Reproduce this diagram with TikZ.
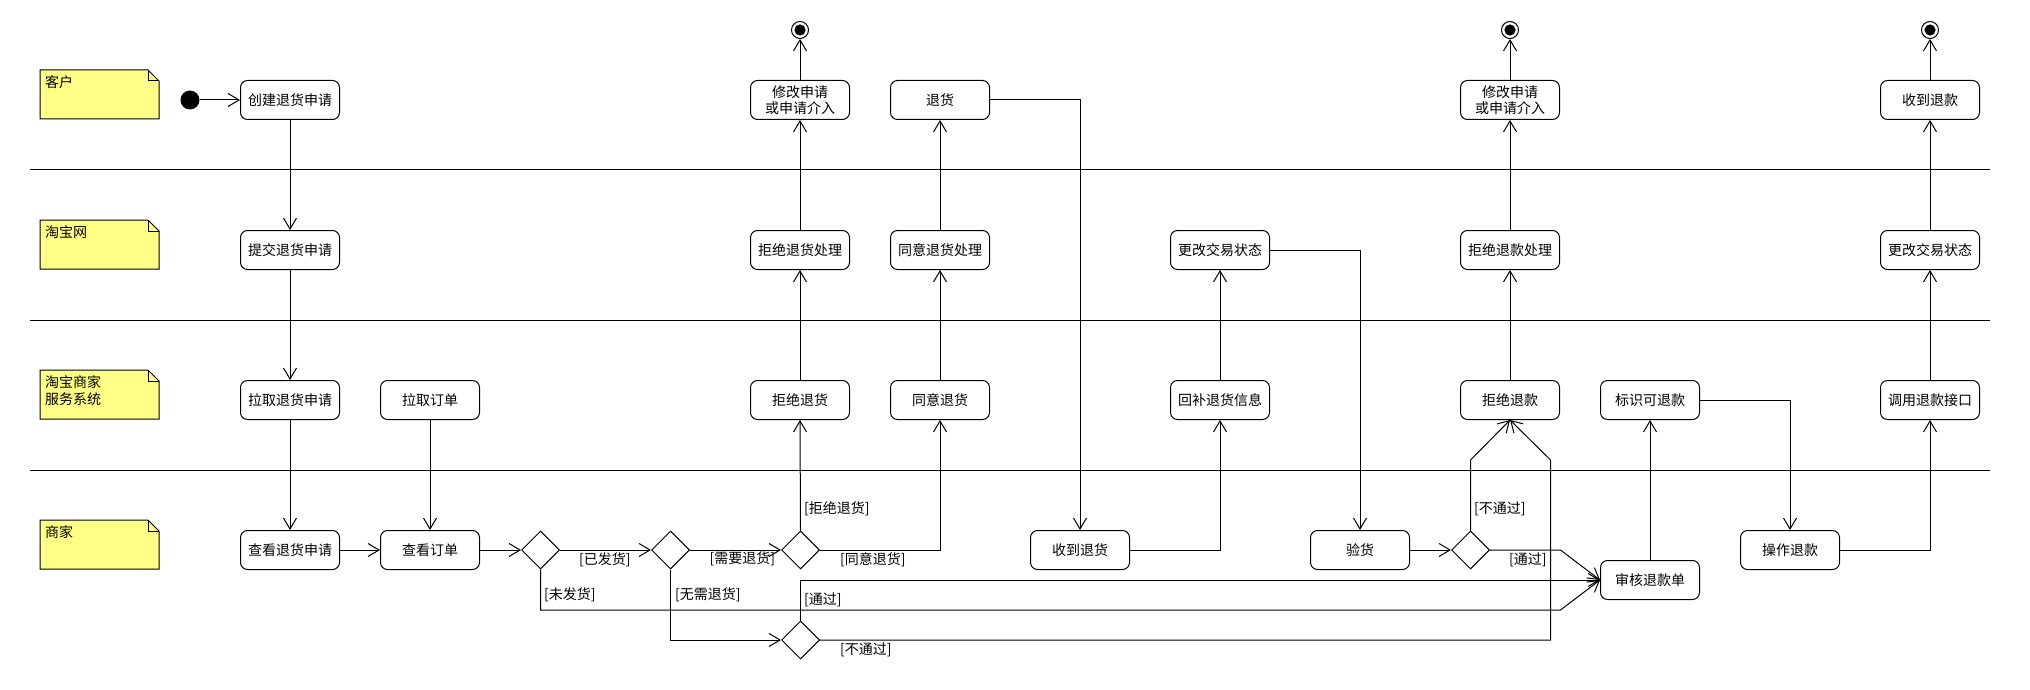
\documentclass[tikz,border=0pt]{standalone}
\usepackage{fontspec}
\newfontfamily\cjk{Noto Sans CJK SC}
\usetikzlibrary{shapes.geometric,arrows.meta}
\definecolor{notey}{RGB}{255,255,136}
\tikzset{
  act/.style={draw, line width=1pt, rounded corners=7pt, minimum width=99pt, minimum height=39pt,
    inner sep=0pt, align=center, font=\cjk\fontsize{14}{16.5}\selectfont},
  dec/.style={draw, line width=1pt, diamond, minimum width=38pt, minimum height=38pt, inner sep=0pt},
  flow/.style={line width=1pt, -{Straight Barb[length=11pt,width=13pt]}},
  plain/.style={line width=1pt},
  lbl/.style={anchor=base west, inner sep=0pt, font=\cjk\fontsize{14}{16.5}\selectfont},
  notefill/.style={fill=notey, draw=black, line width=1pt},
  notetext/.style={anchor=base west, inner sep=0pt, align=left, font=\cjk\fontsize{14}{16.5}\selectfont},
  finalnode/.style={circle, draw, line width=1pt, fill=white, minimum size=17pt, inner sep=0pt,
    path picture={\fill[black] (path picture bounding box.center) circle (5.6pt);}},
  startnode/.style={circle, fill=black, minimum size=19pt, inner sep=0pt},
  lane/.style={line width=1pt}
}
% name, top y, baseline offset of last text line, text
\newcommand\lanenote[4]{%
  \filldraw[notefill] (40,#2) -- (148,#2) -- (159,#2+11) -- (159,#2+49) -- (40,#2+49) -- cycle;
  \draw[plain] (148,#2) -- (148,#2+11) -- (159,#2+11);
  \node[notetext] (#1) at (45,#2+#3) {#4};
}
\begin{document}
\begin{tikzpicture}[x=1pt,y=-1pt]
\useasboundingbox (0,0) rectangle (2030,690);

% swimlane separators
\coordinate (l1a) at (30,170);  \coordinate (l1b) at (1990,170);
\coordinate (l2a) at (30,320);  \coordinate (l2b) at (1990,320);
\coordinate (l3a) at (30,470);  \coordinate (l3b) at (1990,470);
\draw[lane] (l1a) -- (l1b);
\draw[lane] (l2a) -- (l2b);
\draw[lane] (l3a) -- (l3b);

% lane notes
\lanenote{n1}{70}{17.5}{客户}
\lanenote{n2}{220}{17.5}{淘宝网}
\lanenote{n3}{370}{34}{淘宝商家\\服务系统}
\lanenote{n4}{520}{17.5}{商家}

% start / finals
\node[startnode] (st) at (190,100) {};
\node[finalnode] (f1) at (800,30) {};
\node[finalnode] (f2) at (1510,30) {};
\node[finalnode] (f3) at (1930,30) {};

% activities
\node[act] (c1) at (290,100) {创建退货申请};
\node[act] (t1) at (290,250) {提交退货申请};
\node[act] (s1) at (290,400) {拉取退货申请};
\node[act] (s2) at (430,400) {拉取订单};
\node[act] (m1) at (290,550) {查看退货申请};
\node[act] (m2) at (430,550) {查看订单};

\node[act] (s3) at (800,400) {拒绝退货};
\node[act] (s4) at (940,400) {同意退货};
\node[act] (t2) at (800,250) {拒绝退货处理};
\node[act] (t3) at (940,250) {同意退货处理};
\node[act] (c2) at (800,100) {修改申请\\或申请介入};
\node[act] (c3) at (940,100) {退货};

\node[act] (m3) at (1080,550) {收到退货};
\node[act] (s5) at (1220,400) {回补退货信息};
\node[act] (t4) at (1220,250) {更改交易状态};
\node[act] (m4) at (1360,550) {验货};

\node[act] (s6) at (1510,400) {拒绝退款};
\node[act] (t5) at (1510,250) {拒绝退款处理};
\node[act] (c4) at (1510,100) {修改申请\\或申请介入};

\node[act] (m5) at (1650,580) {审核退款单};
\node[act] (s7) at (1650,400) {标识可退款};
\node[act] (m6) at (1790,550) {操作退款};
\node[act] (s8) at (1930,400) {调用退款接口};
\node[act] (t6) at (1930,250) {更改交易状态};
\node[act] (c5) at (1930,100) {收到退款};

% decisions
\node[dec] (d1) at (540.5,550) {};
\node[dec] (d2) at (670.5,550) {};
\node[dec] (d3) at (800.5,550) {};
\node[dec] (d4) at (800.5,640) {};
\node[dec] (d5) at (1470.5,550) {};

% bend points
\coordinate (k1) at (1560.5,610);
\coordinate (k2) at (1550.5,460);
\coordinate (k3) at (1470.5,460);
\coordinate (k4) at (1560.5,550);

% connectors
\draw[flow] (st) -- (c1);
\draw[flow] (c1) -- (t1);
\draw[flow] (t1) -- (s1);
\draw[flow] (s1) -- (m1);
\draw[flow] (s2) -- (m2);
\draw[flow] (m1) -- (m2);
\draw[flow] (m2) -- (d1.west);
\draw[flow] (d1.east) -- (d2.west);
\draw[flow] (d1.south) |- (k1) -- (m5.west);
\draw[flow] (d2.east) -- (d3.west);
\draw[flow] (d2.south) |- (d4.west);
\draw[flow] (d3.north) -- (s3.south);
\draw[flow] (d3.east) -| (s4.south);
\draw[flow] (s3) -- (t2);
\draw[flow] (t2) -- (c2);
\draw[flow] (c2) -- (f1);
\draw[flow] (s4) -- (t3);
\draw[flow] (t3) -- (c3);
\draw[flow] (c3.east) -| (m3.north);
\draw[flow] (m3.east) -| (s5.south);
\draw[flow] (s5) -- (t4);
\draw[flow] (t4.east) -| (m4.north);
\draw[flow] (m4.east) -- (d5.west);
\draw[flow] (d5.north) -- (k3) -- (s6.south);
\draw[flow] (d5.east) -- (k4) -- (m5.west);
\draw[flow] (d4.north) |- (m5.west);
\draw[flow] (d4.east) -| (k2) -- (s6.south);
\draw[flow] (s6) -- (t5);
\draw[flow] (t5) -- (c4);
\draw[flow] (c4) -- (f2);
\draw[flow] (m5) -- (s7);
\draw[flow] (s7.east) -| (m6.north);
\draw[flow] (m6.east) -| (s8.south);
\draw[flow] (s8) -- (t6);
\draw[flow] (t6) -- (c5);
\draw[flow] (c5) -- (f3);

% guard labels
\node[lbl] (g1) at (579,564) {[已发货]};
\node[lbl] (g2) at (544,599) {[未发货]};
\node[lbl] (g3) at (709.5,563) {[需要退货]};
\node[lbl] (g4) at (675,599) {[无需退货]};
\node[lbl] (g5) at (804,513) {[拒绝退货]};
\node[lbl] (g6) at (840,564) {[同意退货]};
\node[lbl] (g7) at (804,604) {[通过]};
\node[lbl] (g8) at (840,654) {[不通过]};
\node[lbl] (g9) at (1474,513) {[不通过]};
\node[lbl] (g10) at (1509,564) {[通过]};
\end{tikzpicture}
\end{document}
